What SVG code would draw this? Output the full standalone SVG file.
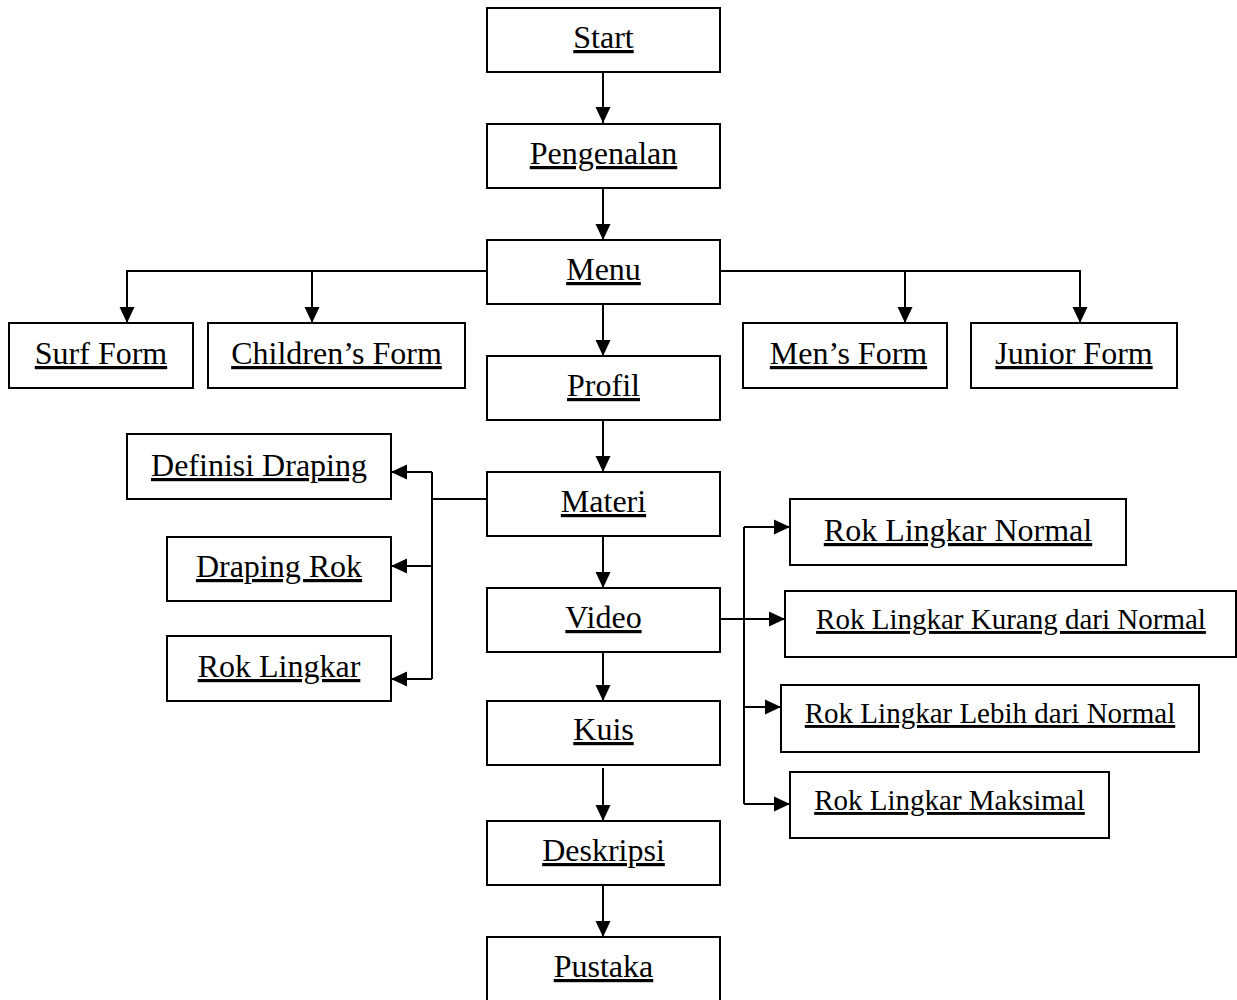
<svg xmlns="http://www.w3.org/2000/svg" width="1237" height="1000" viewBox="0 0 1237 1000">
<style>
.box{fill:#fff;stroke:#000;stroke-width:2}
.t{font-family:"Liberation Serif","Times New Roman",serif;font-size:32px;fill:#000;text-anchor:middle;text-decoration:underline}
.s{font-size:29px}
.c{fill:none;stroke:#000;stroke-width:2}
</style>
<defs>
<marker id="ah" markerUnits="userSpaceOnUse" markerWidth="16" markerHeight="16" refX="16" refY="8" orient="auto">
<path d="M0,0.5 L16,8 L0,15.5 z" fill="#000"/>
</marker>
</defs>
<rect width="1237" height="1000" fill="#fff"/>
<g id="connectors">
<path class="c" d="M603,72 V123" marker-end="url(#ah)"/>
<path class="c" d="M603,188 V240" marker-end="url(#ah)"/>
<path class="c" d="M603,304 V356" marker-end="url(#ah)"/>
<path class="c" d="M603,420 V472" marker-end="url(#ah)"/>
<path class="c" d="M603,536 V588" marker-end="url(#ah)"/>
<path class="c" d="M603,652 V701" marker-end="url(#ah)"/>
<path class="c" d="M603,768 V821" marker-end="url(#ah)"/>
<path class="c" d="M603,885 V937" marker-end="url(#ah)"/>
<path class="c" d="M487,271 H127 V323" marker-end="url(#ah)"/>
<path class="c" d="M312,271 V323" marker-end="url(#ah)"/>
<path class="c" d="M720,271 H1080 V323" marker-end="url(#ah)"/>
<path class="c" d="M905,271 V323" marker-end="url(#ah)"/>
<path class="c" d="M487,499 H432"/>
<path class="c" d="M432,472 V679"/>
<path class="c" d="M432,472 H391" marker-end="url(#ah)"/>
<path class="c" d="M432,566 H391" marker-end="url(#ah)"/>
<path class="c" d="M432,679 H391" marker-end="url(#ah)"/>
<path class="c" d="M720,619 H785" marker-end="url(#ah)"/>
<path class="c" d="M744,527 V804"/>
<path class="c" d="M744,527 H790" marker-end="url(#ah)"/>
<path class="c" d="M744,707 H781" marker-end="url(#ah)"/>
<path class="c" d="M744,804 H790" marker-end="url(#ah)"/>
</g>
<g id="start"><rect class="box" x="487" y="8" width="233" height="64"/><text class="t" x="603.5" y="48">Start</text></g>
<g id="pengenalan"><rect class="box" x="487" y="124" width="233" height="64"/><text class="t" x="603.5" y="164">Pengenalan</text></g>
<g id="menu"><rect class="box" x="487" y="240" width="233" height="64"/><text class="t" x="603.5" y="280">Menu</text></g>
<g id="profil"><rect class="box" x="487" y="356" width="233" height="64"/><text class="t" x="603.5" y="396">Profil</text></g>
<g id="materi"><rect class="box" x="487" y="472" width="233" height="64"/><text class="t" x="603.5" y="512">Materi</text></g>
<g id="video"><rect class="box" x="487" y="588" width="233" height="64"/><text class="t" x="603.5" y="628">Video</text></g>
<g id="kuis"><rect class="box" x="487" y="701" width="233" height="64"/><text class="t" x="603.5" y="740">Kuis</text></g>
<g id="deskripsi"><rect class="box" x="487" y="821" width="233" height="64"/><text class="t" x="603.5" y="861">Deskripsi</text></g>
<g id="pustaka"><rect class="box" x="487" y="937" width="233" height="66"/><text class="t" x="603.5" y="977">Pustaka</text></g>
<g id="surf-form"><rect class="box" x="9" y="323" width="184" height="65"/><text class="t" x="101" y="364">Surf Form</text></g>
<g id="childrens-form"><rect class="box" x="208" y="323" width="257" height="65"/><text class="t" x="336.5" y="364">Children’s Form</text></g>
<g id="mens-form"><rect class="box" x="743" y="323" width="204" height="65"/><text class="t" x="848.5" y="364">Men’s Form</text></g>
<g id="junior-form"><rect class="box" x="971" y="323" width="206" height="65"/><text class="t" x="1074" y="364">Junior Form</text></g>
<g id="definisi-draping"><rect class="box" x="127" y="434" width="264" height="65"/><text class="t" x="259" y="476">Definisi Draping</text></g>
<g id="draping-rok"><rect class="box" x="167" y="537" width="224" height="64"/><text class="t" x="279" y="577">Draping Rok</text></g>
<g id="rok-lingkar"><rect class="box" x="167" y="636" width="224" height="65"/><text class="t" x="279" y="677">Rok Lingkar</text></g>
<g id="rok-normal"><rect class="box" x="790" y="499" width="336" height="66"/><text class="t" x="958" y="541">Rok Lingkar Normal</text></g>
<g id="rok-kurang"><rect class="box" x="785" y="591" width="451" height="66"/><text class="t s" x="1011" y="629">Rok Lingkar Kurang dari Normal</text></g>
<g id="rok-lebih"><rect class="box" x="781" y="685" width="418" height="67"/><text class="t s" x="990" y="723">Rok Lingkar Lebih dari Normal</text></g>
<g id="rok-maksimal"><rect class="box" x="790" y="772" width="319" height="66"/><text class="t s" x="949.5" y="810">Rok Lingkar Maksimal</text></g>
</svg>
